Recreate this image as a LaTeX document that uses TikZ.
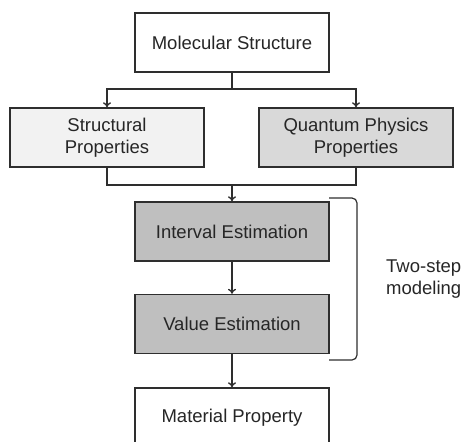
\documentclass[tikz,border=0pt]{standalone}
\usepackage{fontspec}
\setmainfont{Liberation Sans}
\usetikzlibrary{arrows.meta}
\definecolor{ln}{HTML}{2E2E2E}
\definecolor{tx}{HTML}{262626}
\definecolor{fa}{HTML}{F2F2F2}
\definecolor{fb}{HTML}{D9D9D9}
\definecolor{fc}{HTML}{BFBFBF}
\begin{document}
\begin{tikzpicture}[x=1pt,y=-1pt,
  box/.style={draw=ln, line width=1.4pt, minimum width=194pt, minimum height=59pt,
    inner sep=0pt, align=center, text=tx,
    font=\fontsize{18.5}{22}\selectfont},
  conn/.style={draw=ln, line width=1.4pt},
  arr/.style={conn, -{To[length=5pt,width=8pt]}}]
\useasboundingbox (0,0) rectangle (465,441);
\clip (0,0) rectangle (465,441);
\node[box, fill=white] (ms) at (232,42.5) {Molecular Structure};
\node[box, fill=fa] (sp) at (107,137.5) {Structural\\Properties};
\node[box, fill=fb] (qp) at (356,137.5) {Quantum Physics\\Properties};
\node[box, fill=fc] (ie) at (232,231.5) {Interval Estimation};
\node[box, fill=fc] (ve) at (232,324) {Value Estimation};
\node[box, fill=white] (mp) at (232,417.5) {Material Property};
\coordinate (j1) at (232,89);
\coordinate (j2) at (232,185);
\draw[conn] (ms.south) -- (j1);
\draw[arr] (j1) -| (sp.north);
\draw[arr] (j1) -| (qp.north);
\draw[conn] (sp.south) -- (sp.south |- j2) -- (qp.south |- j2) -- (qp.south);
\draw[arr] (j2) -- (ie.north);
\draw[arr] (ie.south) -- (ve.north);
\draw[arr] (ve.south) -- (mp.north);
\coordinate (b1) at (329,198);
\coordinate (b2) at (357,198);
\coordinate (b3) at (357,360);
\coordinate (b4) at (329,360);
\draw[conn, line width=1.2pt, rounded corners=5pt] (b1) -- (b2) -- (b3) -- (b4);
\node[anchor=west, align=left, inner sep=0pt, text=tx,
  font=\fontsize{18.5}{22}\selectfont] (lbl) at (386,279) {Two-step\\modeling};
\end{tikzpicture}
\end{document}
